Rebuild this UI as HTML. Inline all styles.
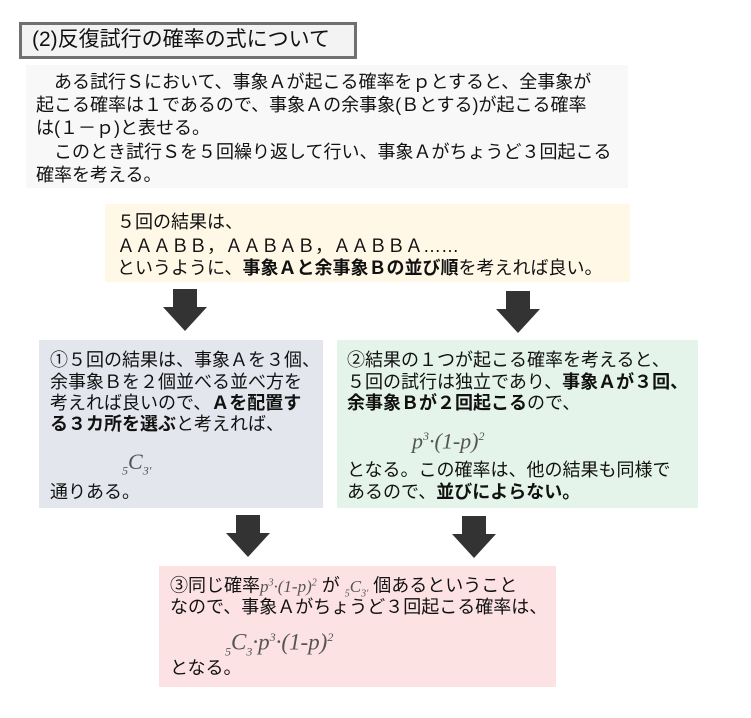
<!DOCTYPE html>
<html><head><meta charset="utf-8"><style>
body{margin:0;width:751px;height:718px;background:#fff;position:relative;overflow:hidden;font-family:"Liberation Sans","Noto Sans CJK JP",sans-serif;color:#111;}
.b{position:absolute;}
.t{position:absolute;white-space:nowrap;font-size:18px;line-height:22px;}
b{font-weight:bold;}
.m{font-family:"Liberation Serif",serif;font-style:italic;color:#555;}
.arr{position:absolute;width:44px;height:42px;}
</style></head><body>
<div class="b" style="left:19px;top:22px;width:332px;height:31px;border:3px solid #707070;background:#f3f3f3"></div>
<div class="t" style="left:32px;top:26px;font-size:21px;line-height:28px">(2)反復試行の確率の式について</div>

<div class="b" style="left:26px;top:65px;width:602px;height:123px;background:#f8f8f8"></div>
<div class="t" style="left:36px;top:71px">　ある試行Ｓにおいて、事象Ａが起こる確率をｐとすると、全事象が</div>
<div class="t" style="left:36px;top:94px">起こる確率は１であるので、事象Ａの余事象(Ｂとする)が起こる確率</div>
<div class="t" style="left:36px;top:117px">は(１－ｐ)と表せる。</div>
<div class="t" style="left:36px;top:141px">　このとき試行Ｓを５回繰り返して行い、事象Ａがちょうど３回起こる</div>
<div class="t" style="left:36px;top:164px">確率を考える。</div>

<div class="b" style="left:105px;top:204px;width:525px;height:78px;background:#fff8e6"></div>
<div class="t" style="left:117px;top:211px">５回の結果は、</div>
<div class="t" style="left:117px;top:235px">ＡＡＡＢＢ，ＡＡＢＡＢ，ＡＡＢＢＡ……</div>
<div class="t" style="left:117px;top:257px">というように、<b>事象Ａと余事象Ｂの並び順</b>を考えれば良い。</div>

<svg class="arr" style="left:163px;top:289px" viewBox="0 0 44 42"><polygon points="10,0 34,0 34,18 44,18 22,42 0,18 10,18" fill="#333"/></svg>
<svg class="arr" style="left:496px;top:291px" viewBox="0 0 44 42"><polygon points="10,0 34,0 34,18 44,18 22,42 0,18 10,18" fill="#333"/></svg>

<div class="b" style="left:39px;top:340px;width:284px;height:168px;background:#e4e6ee"></div>
<div class="t" style="left:50px;top:349px">①５回の結果は、事象Ａを３個、</div>
<div class="t" style="left:50px;top:371px">余事象Ｂを２個並べる並べ方を</div>
<div class="t" style="left:50px;top:392px">考えれば良いので、<b>Ａを配置す</b></div>
<div class="t" style="left:50px;top:413px"><b>る３カ所を選ぶ</b>と考えれば、</div>
<div class="t m" style="left:122px;top:448px;font-size:22px;line-height:28px"><sub style="font-size:12px">5</sub>C<sub style="font-size:12px">3'</sub></div>
<div class="t" style="left:50px;top:481px">通りある。</div>

<div class="b" style="left:337px;top:340px;width:361px;height:168px;background:#e4f4ea"></div>
<div class="t" style="left:347px;top:349px">②結果の１つが起こる確率を考えると、</div>
<div class="t" style="left:347px;top:371px">５回の試行は独立であり、<b>事象Ａが３回、</b></div>
<div class="t" style="left:347px;top:392px"><b>余事象Ｂが２回起こる</b>ので、</div>
<div class="t m" style="left:412px;top:422px;font-size:22px;line-height:28px">p<sup style="font-size:12px">3</sup>·(1-p)<sup style="font-size:12px">2</sup></div>
<div class="t" style="left:347px;top:459px">となる。この確率は、他の結果も同様で</div>
<div class="t" style="left:347px;top:481px">あるので、<b>並びによらない。</b></div>

<svg class="arr" style="left:226px;top:515px" viewBox="0 0 44 42"><polygon points="10,0 34,0 34,18 44,18 22,42 0,18 10,18" fill="#333"/></svg>
<svg class="arr" style="left:452px;top:516px" viewBox="0 0 44 42"><polygon points="10,0 34,0 34,18 44,18 22,42 0,18 10,18" fill="#333"/></svg>

<div class="b" style="left:159px;top:566px;width:397px;height:121px;background:#fde2e4"></div>
<div class="t" style="left:170px;top:572px">③同じ確率<span class="m" style="font-size:17px">p<sup style="font-size:10px">3</sup>·(1-p)<sup style="font-size:10px">2</sup></span> が <span class="m" style="font-size:17px"><sub style="font-size:10px">5</sub>C<sub style="font-size:10px">3'</sub></span> 個あるということ</div>
<div class="t" style="left:170px;top:596px">なので、事象Ａがちょうど３回起こる確率は、</div>
<div class="t m" style="left:225px;top:623px;font-size:23px;line-height:28px"><sub style="font-size:12px">5</sub>C<sub style="font-size:12px">3</sub>·p<sup style="font-size:12px">3</sup>·(1-p)<sup style="font-size:12px">2</sup></div>
<div class="t" style="left:170px;top:657px">となる。</div>
</body></html>
